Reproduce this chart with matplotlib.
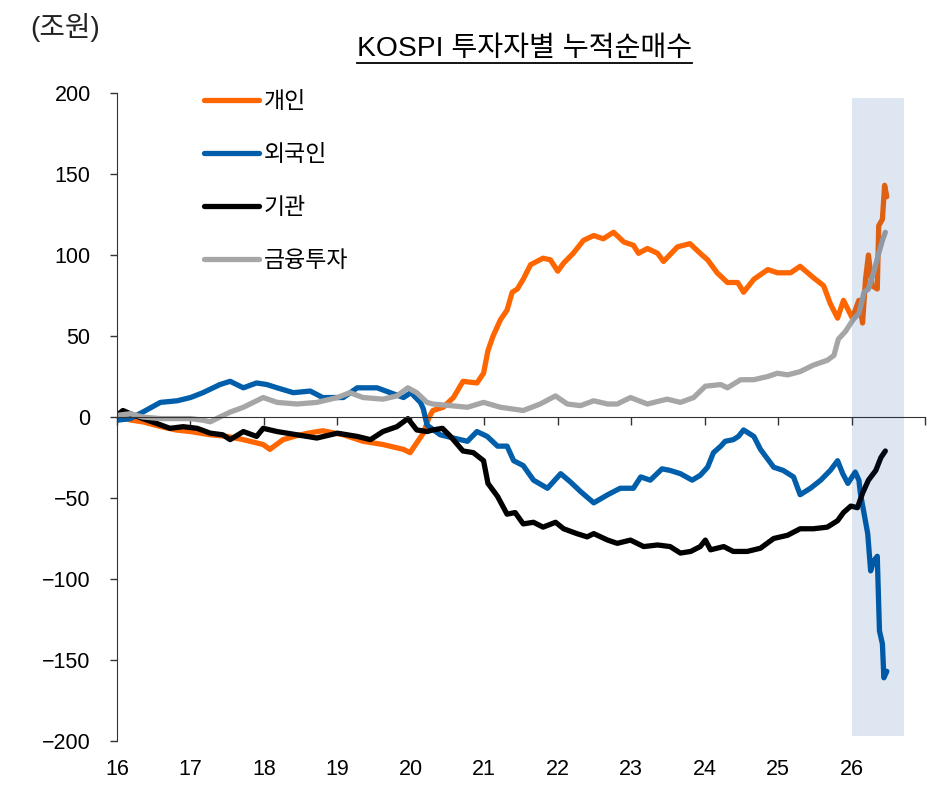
import matplotlib
matplotlib.use("Agg")
import matplotlib.pyplot as plt
from matplotlib.lines import Line2D

plt.rcParams['font.family'] = ['Liberation Sans', 'Noto Sans CJK KR', 'DejaVu Sans']
plt.rcParams['axes.unicode_minus'] = True

# 누적순매수 (조원), x = 연도 (16 = 2016)
indiv_x = [16.0, 16.2, 16.35, 16.6, 16.8, 17.0, 17.27, 17.5, 17.72, 17.99, 18.08, 18.26, 18.45, 18.6, 18.8,
           19.08, 19.35, 19.62, 19.9, 19.99, 20.08, 20.17, 20.25, 20.3, 20.44, 20.58, 20.71, 20.9, 20.99,
           21.05, 21.12, 21.22, 21.31, 21.38, 21.45, 21.53, 21.63, 21.8, 21.9, 22.0, 22.08, 22.21, 22.35,
           22.49, 22.62, 22.76, 22.9, 23.03, 23.1, 23.22, 23.36, 23.44, 23.63, 23.8, 23.94, 24.04, 24.17,
           24.31, 24.45, 24.53, 24.67, 24.86, 24.99, 25.17, 25.3, 25.48, 25.62, 25.71, 25.81, 25.89, 26.01,
           26.1, 26.15, 26.19, 26.23, 26.28, 26.35, 26.37, 26.42, 26.45, 26.48]
indiv_y = [0, -2, -3, -6, -8, -9, -11, -12, -14, -17, -20, -14, -11.5, -10, -8.5,
           -11, -15, -17, -20, -22, -16, -10, 0, 4, 6, 12, 22, 21, 27,
           41, 50, 60, 66, 77, 79, 85, 94, 98, 97, 90, 95, 101, 109,
           112, 110, 114, 108, 106, 101, 104, 101, 96, 105, 107, 101, 97, 89,
           83, 83, 77, 85, 91, 89, 89, 93, 86, 81, 70, 61, 72, 61,
           72, 58, 85, 100, 81, 79, 118, 122, 143, 136]

foreign_x = [16.0, 16.18, 16.35, 16.59, 16.82, 17.0, 17.17, 17.4, 17.54, 17.72, 17.9, 18.04, 18.18, 18.4,
             18.63, 18.8, 19.08, 19.27, 19.54, 19.72, 19.9, 20.0, 20.13, 20.17, 20.22, 20.4, 20.58, 20.77,
             20.9, 21.04, 21.18, 21.31, 21.4, 21.53, 21.67, 21.86, 22.04, 22.17, 22.31, 22.49, 22.68, 22.85,
             23.03, 23.13, 23.26, 23.42, 23.53, 23.67, 23.83, 23.94, 24.04, 24.12, 24.22, 24.28, 24.39, 24.46,
             24.53, 24.67, 24.76, 24.94, 25.07, 25.21, 25.3, 25.44, 25.58, 25.71, 25.81, 25.88, 25.95, 26.05,
             26.1, 26.12, 26.22, 26.26, 26.3, 26.35, 26.38, 26.42, 26.44, 26.48]
foreign_y = [-2, -1, 3, 9, 10, 12, 15, 20, 22, 18, 21, 20, 18, 15,
             16, 12, 12, 18, 18, 15, 12, 15, 9, 5, -5, -11, -13, -15,
             -9, -12, -18, -18, -27, -30, -39, -44, -35, -40, -46, -53, -48, -44,
             -44, -37, -39, -32, -33, -35, -39, -36, -31, -22, -18, -15, -14, -12,
             -8, -12, -20, -31, -33, -37, -48, -44, -39, -33, -27, -35, -41, -34,
             -39, -47, -72, -95, -89, -86, -132, -140, -161, -157]

inst_x = [16.0, 16.08, 16.18, 16.35, 16.54, 16.72, 16.9, 17.09, 17.27, 17.44, 17.54, 17.72, 17.9, 17.99,
          18.18, 18.45, 18.72, 19.0, 19.27, 19.45, 19.62, 19.81, 19.96, 20.08, 20.22, 20.3, 20.43, 20.54,
          20.71, 20.85, 20.99, 21.05, 21.18, 21.31, 21.42, 21.53, 21.67, 21.8, 21.97, 22.08, 22.26, 22.4,
          22.49, 22.68, 22.81, 22.99, 23.17, 23.36, 23.53, 23.67, 23.81, 23.94, 24.01, 24.08, 24.26, 24.39,
          24.58, 24.76, 24.94, 25.13, 25.3, 25.48, 25.67, 25.81, 25.89, 25.99, 26.08, 26.15, 26.23, 26.33,
          26.4, 26.46]
inst_y = [1, 4, 2, -1, -4, -7, -6, -7, -10, -11, -14, -9, -12, -7,
          -9, -11, -13, -10, -12, -14, -9, -6, -1, -8, -9, -8, -7, -12,
          -21, -22, -27, -41, -49, -60, -59, -66, -65, -68, -65, -69, -72, -74,
          -72, -76, -78, -76, -80, -79, -80, -84, -83, -80, -76, -82, -80, -83,
          -83, -81, -75, -73, -69, -69, -68, -64, -59, -55, -56, -47, -39, -33,
          -25, -21]

fininv_x = [16.0, 16.18, 16.35, 16.59, 16.82, 17.0, 17.17, 17.27, 17.4, 17.54, 17.72, 17.9, 17.99, 18.18,
            18.45, 18.72, 19.0, 19.17, 19.35, 19.62, 19.81, 19.96, 20.08, 20.22, 20.3, 20.54, 20.77, 20.99,
            21.22, 21.53, 21.76, 21.97, 22.13, 22.31, 22.49, 22.68, 22.81, 22.99, 23.22, 23.49, 23.67, 23.85,
            24.01, 24.22, 24.31, 24.49, 24.67, 24.86, 24.99, 25.13, 25.3, 25.48, 25.67, 25.76, 25.82, 25.92,
            26.02, 26.1, 26.17, 26.23, 26.3, 26.37, 26.42, 26.46]
fininv_y = [1, 2, 0, -1, -1, -1, -2, -3, 0, 3, 6, 10, 12, 9,
            8, 9, 12, 15, 12, 11, 13, 18, 15, 9, 8, 7, 6, 9,
            6, 4, 8, 13, 8, 7, 10, 8, 8, 12, 8, 11, 9, 12,
            19, 20, 18, 23, 23, 25, 27, 26, 28, 32, 35, 38, 48, 53,
            60, 64, 77, 79, 89, 101, 109, 114]

series_labels = ['개인', '외국인', '기관', '금융투자']
series_colors = ['#FF6600', '#005EAA', '#000000', '#A6A6A6']

x_ticks = list(range(16, 28))
x_ticklabels = [str(t) for t in range(16, 27)] + ['']
y_ticks = list(range(-200, 201, 50))
shade_from, shade_to, shade_lim = 26.0, 26.72, 197

fig = plt.figure(figsize=(9.37, 8.07), dpi=100)
ax = fig.add_axes([0.1249, 0.0818, 0.8623, 0.803])

series = [(indiv_x, indiv_y), (foreign_x, foreign_y), (inst_x, inst_y), (fininv_x, fininv_y)]
for (xs, ys), label, color in zip(series, series_labels, series_colors):
    ax.plot(xs, ys, color=color, lw=3.8, label=label, solid_joinstyle='round', solid_capstyle='round')

# highlighted recent period (drawn over lines)
ax.fill_between([shade_from, shade_to], -shade_lim, shade_lim, color='#003F93', alpha=0.13,
                lw=0, zorder=5)

ax.set_xlim(16, 27)
ax.set_ylim(-200, 200)
ax.set_yticks(y_ticks)
ax.set_yticklabels([f"{v:d}".replace('-', '\u2212') for v in y_ticks])
ax.tick_params(axis='y', direction='out', length=5, width=1, pad=14, labelsize=15.5, color='#333333')

for side in ['top', 'right']:
    ax.spines[side].set_visible(False)
ax.spines['left'].set_color('#333333')
ax.spines['bottom'].set_position(('data', 0))
ax.spines['bottom'].set_color('#333333')
ax.set_xticks(x_ticks)
ax.tick_params(axis='x', direction='out', length=6, width=1, labelbottom=False, color='#333333')

sec = ax.secondary_xaxis(0)
sec.set_xticks(x_ticks[:-1], x_ticklabels[:-1])
sec.tick_params(length=0, pad=13, labelsize=15.5)
sec.spines['bottom'].set_visible(False)

leg = ax.legend(loc='upper left', bbox_to_anchor=(0.108, 1.004), frameon=False, fontsize=16.5,
                handlelength=2.4, handletextpad=0.2, labelspacing=1.30, borderaxespad=0, borderpad=0)

fig.text(0.032, 0.9665, '(조원)', fontsize=20, ha='left', va='center', color='#222222')
title = fig.text(0.560, 0.9395, 'KOSPI 투자자별 누적순매수', fontsize=20.3, ha='center', va='center')

# underline the title
fig.canvas.draw()
bb = title.get_window_extent().transformed(fig.transFigure.inverted())
fig.add_artist(Line2D([bb.x0, bb.x1], [bb.y0 - 0.002, bb.y0 - 0.002], color='black', lw=1.3,
                      transform=fig.transFigure))

plt.savefig('out.png', dpi=100)
